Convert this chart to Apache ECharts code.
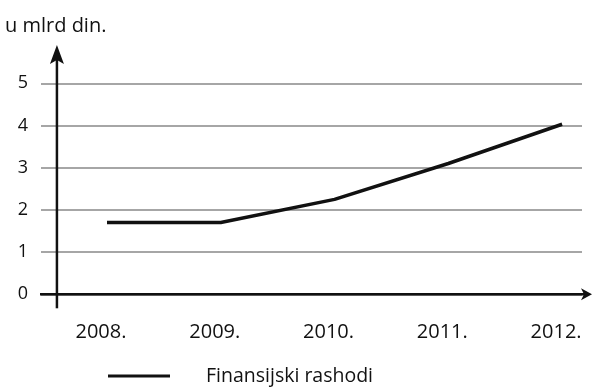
<!DOCTYPE html>
<html>
<head>
<meta charset="utf-8">
<script src="https://cdn.jsdelivr.net/npm/echarts@6/dist/echarts.min.js"></script>
<style>
  html, body { margin: 0; padding: 0; background: #fff; }
  #chart { width: 593px; height: 387px; }
</style>
</head>
<body>
<div id="chart"></div>
<script>
// data
var years = ['2008.', '2009.', '2010.', '2011.', '2012.']
var rashodi = [1.7, 1.7, 2.25, 3.1, 4.03]
var yTicks = [0, 1, 2, 3, 4, 5]
var seriesName = 'Finansijski rashodi'
var unitLabel = 'u mlrd din.'

// x range: gridlines start a bit left of the y axis (which sits at AXIS_X)
var AXIS_X = -0.44
var X_MIN = -0.58
var X_MAX = 4.175
var font = '"Open Sans", "Noto Sans", sans-serif'

var chart = echarts.init(document.getElementById('chart'))

var option = {
    animation: false,
    backgroundColor: '#fff',
    title: {
        text: unitLabel,
        left: 0,
        top: 11,
        textStyle: { color: '#111', fontWeight: 'normal', fontSize: 20, fontFamily: font }
    },
    legend: {
        data: [{ name: seriesName, icon: 'rect' }],
        left: 103,
        top: 361,
        itemWidth: 62,
        itemHeight: 3,
        textStyle: { color: '#111', fontSize: 19.5, fontFamily: font, padding: [0, 0, 0, 31] }
    },
    grid: { left: 41, right: 11, top: 83.3, bottom: 92.7 },
    xAxis: {
        type: 'value',
        min: X_MIN,
        max: X_MAX,
        axisLine: { show: false },
        axisTick: { show: false },
        splitLine: { show: false },
        axisLabel: {
            showMinLabel: false,
            showMaxLabel: false,
            margin: 28,
            color: '#111',
            fontSize: 20,
            fontFamily: font,
            padding: [0, 12, 0, 0],
            formatter: function (v) {
                return Number.isInteger(v) && years[v] ? years[v] : ''
            }
        }
    },
    yAxis: {
        type: 'value',
        min: yTicks[0],
        max: yTicks[yTicks.length - 1],
        interval: 1,
        axisLine: { show: false },
        axisTick: { show: false },
        splitLine: { lineStyle: { color: '#888', width: 1.5 } },
        axisLabel: { margin: 13, color: '#111', fontSize: 18, fontFamily: font }
    },
    series: [
        {
            name: seriesName,
            type: 'line',
            data: rashodi.map(function (v, i) { return [i, v] }),
            symbol: 'none',
            lineStyle: { color: '#111', width: 3.5 },
            itemStyle: { color: '#111' },
            z: 5
        }
    ]
}
chart.setOption(option)

// arrowed axis lines, placed from the grid's own scale
var o = chart.convertToPixel({ gridIndex: 0 }, [AXIS_X, 0])
var s = chart.convertToPixel({ gridIndex: 0 }, [X_MIN, 0])
var e = chart.convertToPixel({ gridIndex: 0 }, [X_MAX, 0])
var ax = o[0], ay = o[1], left = s[0], right = e[0]
chart.setOption({
    graphic: [
        { type: 'line', z: 10, shape: { x1: left - 1, y1: ay, x2: right + 4, y2: ay }, style: { stroke: '#111', lineWidth: 2.5 } },
        { type: 'polygon', z: 10, shape: { points: [[right + 10, ay], [right - 1, ay - 6], [right + 2, ay], [right - 1, ay + 6]] }, style: { fill: '#111' } },
        { type: 'line', z: 10, shape: { x1: ax, y1: ay + 14, x2: ax, y2: 58 }, style: { stroke: '#111', lineWidth: 2.5 } },
        { type: 'polygon', z: 10, shape: { points: [[ax, 45], [ax + 7, 64], [ax, 60], [ax - 7, 64]] }, style: { fill: '#111' } }
    ]
})
</script>
</body>
</html>
